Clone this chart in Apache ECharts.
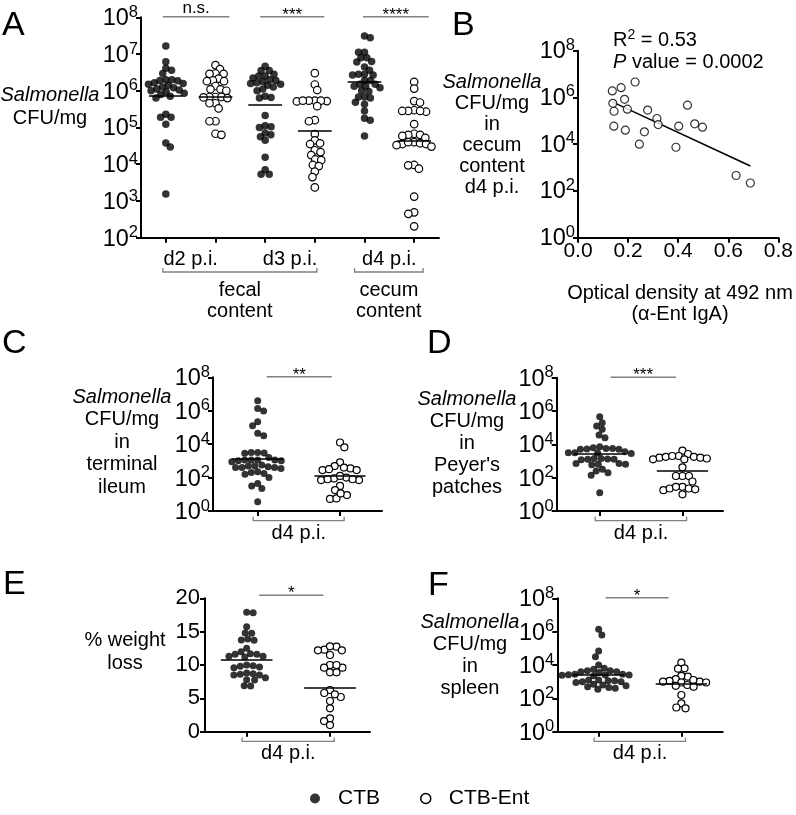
<!DOCTYPE html>
<html><head><meta charset="utf-8">
<script src="https://cdn.jsdelivr.net/npm/echarts@6/dist/echarts.min.js"></script>
<style>html,body{margin:0;padding:0;background:#fff}#c{width:796px;height:815px}</style>
</head><body><div id="c"></div>
<script>
// ===== DATA (log10 CFU/mg unless noted) =====
const aCategories = ['d2 p.i.', 'd3 p.i.', 'd4 p.i.'];
const aD2_CTB = [7.22, 6.79, 6.61, 6.56, 6.47, 6.30, 6.30, 6.28, 6.27, 6.22, 6.20, 6.18, 6.15, 6.10, 6.08, 6.05, 6.02, 6.00, 5.97, 5.93, 5.90, 5.85, 5.80, 5.36, 5.28, 5.28, 5.09, 4.58, 4.47, 3.19];
const aD2_Ent = [6.70, 6.59, 6.47, 6.46, 6.46, 6.33, 6.28, 6.26, 6.26, 6.13, 6.04, 6.04, 6.00, 5.83, 5.83, 5.82, 5.83, 5.80, 5.66, 5.66, 5.52, 5.17, 5.17, 4.83, 4.80];
const aD3_CTB = [6.67, 6.55, 6.55, 6.45, 6.40, 6.40, 6.35, 6.30, 6.28, 6.25, 6.22, 6.20, 6.18, 6.15, 6.10, 6.05, 6.00, 5.85, 5.82, 5.80, 5.33, 5.05, 5.02, 5.00, 4.85, 4.80, 4.75, 4.65, 4.19, 3.85, 3.73, 3.73];
const aD3_Ent = [6.48, 6.17, 6.02, 5.73, 5.73, 5.72, 5.73, 5.71, 5.73, 5.58, 5.20, 5.17, 4.82, 4.65, 4.57, 4.55, 4.38, 4.33, 4.25, 4.13, 4.11, 3.98, 3.95, 3.80, 3.65, 3.37];
const aD4_CTB = [7.49, 7.44, 7.05, 7.05, 6.90, 6.90, 6.80, 6.78, 6.65, 6.56, 6.45, 6.45, 6.43, 6.43, 6.28, 6.28, 6.18, 6.18, 6.12, 6.12, 6.08, 6.00, 5.98, 5.83, 5.83, 5.80, 5.69, 5.63, 5.45, 5.25, 5.20, 4.77];
const aD4_Ent = [6.24, 6.06, 5.72, 5.68, 5.47, 5.45, 5.43, 5.45, 5.45, 5.09, 4.83, 4.80, 4.80, 4.77, 4.72, 4.60, 4.57, 4.55, 4.52, 4.55, 4.60, 4.48, 3.98, 3.97, 3.88, 3.12, 2.69, 2.65, 2.31];
const aMeans = [5.86, 5.85, 5.62, 4.91, 6.25, 4.64];
const aSig = ['n.s.', '***', '****'];

const bOD = [0.137, 0.172, 0.228, 0.139, 0.186, 0.144, 0.197, 0.278, 0.315, 0.320, 0.143, 0.189, 0.265, 0.245, 0.402, 0.437, 0.466, 0.497, 0.391, 0.631, 0.688];
const bLogCFU = [6.28, 6.42, 6.66, 5.75, 5.92, 5.41, 5.50, 5.46, 5.10, 4.84, 4.77, 4.60, 4.53, 4.00, 4.77, 5.67, 4.87, 4.73, 3.87, 2.66, 2.34];
const bStats = ['0.53', '0.0002'];

const cCTB = [6.60, 6.14, 5.98, 5.34, 5.10, 4.65, 4.50, 3.50, 3.47, 3.45, 3.50, 3.20, 3.05, 3.05, 3.05, 3.00, 3.05, 3.00, 2.95, 2.75, 2.70, 2.65, 2.60, 2.60, 2.60, 2.70, 2.55, 2.30, 2.25, 2.20, 2.35, 2.00, 1.65, 1.35, 1.50, 0.55];
const cEnt = [4.10, 3.81, 2.91, 2.69, 2.55, 2.45, 2.45, 2.50, 2.60, 2.00, 1.95, 1.85, 1.85, 1.90, 1.90, 2.10, 1.50, 1.25, 0.95, 0.72, 0.75, 1.05];
const cMeans = [3.15, 2.10];
const dCTB = [5.66, 5.30, 5.10, 4.90, 4.56, 4.40, 3.85, 3.75, 3.70, 3.70, 3.72, 3.75, 3.80, 3.55, 3.50, 3.45, 3.50, 3.48, 3.15, 3.10, 3.08, 3.10, 3.12, 3.15, 2.85, 2.80, 2.78, 2.80, 2.85, 2.50, 2.30, 2.15, 2.40, 1.10];
const dEnt = [3.62, 3.42, 3.30, 3.25, 3.20, 3.20, 3.25, 3.30, 3.15, 3.10, 3.10, 2.62, 2.10, 2.10, 2.10, 1.77, 1.45, 1.35, 1.30, 1.00, 1.25, 1.35, 1.45];
const dMeans = [3.46, 2.40];
const eCTB = [17.9, 17.85, 15.75, 14.75, 14.8, 13.9, 13.7, 13.75, 12.5, 12.0, 11.6, 11.3, 11.2, 11.3, 11.6, 11.7, 10.0, 9.7, 9.9, 9.8, 9.6, 8.7, 8.5, 8.5, 8.6, 8.8, 7.75, 7.8, 6.85, 6.9, 8.1]; // % weight loss
const eEnt = [12.75, 12.3, 11.5, 12.2, 12.2, 12.8, 10.0, 9.6, 8.9, 8.9, 9.6, 10.0, 6.25, 5.8, 5.2, 4.6, 5.6, 3.5, 2.0, 1.6, 1.0];
const eMeans = [10.85, 6.6];
const fCTB = [6.14, 5.80, 4.84, 4.50, 4.00, 3.75, 3.80, 3.65, 3.60, 3.55, 3.60, 3.65, 3.45, 3.40, 3.38, 3.42, 3.40, 3.45, 3.35, 3.10, 3.05, 3.00, 2.95, 3.00, 3.05, 3.10, 2.75, 2.65, 2.55, 2.60, 2.70, 2.85, 2.80];
const fEnt = [4.14, 3.80, 3.78, 3.30, 3.35, 3.15, 3.05, 3.00, 2.95, 2.95, 3.00, 3.10, 2.75, 2.80, 2.70, 2.20, 1.70, 1.45, 1.40];
const fMeans = [3.44, 2.90];
const cdefSig = ['**', '***', '*', '*'];
const groupLabel = 'd4 p.i.';
const seriesNames = ['CTB', 'CTB-Ent'];

// ===== CHART =====
const FONT = '"Liberation Sans", Arial, Helvetica, sans-serif';
const chart = echarts.init(document.getElementById('c'), null, {renderer: 'canvas'});

const supRich = {
  b: {fontSize: 23.5, lineHeight: 30, fontFamily: FONT, color: '#000'},
  s: {fontSize: 16.5, lineHeight: 16, verticalAlign: 'top', fontFamily: FONT, color: '#000'}
};
const AX_LINE = {show: true, onZero: false, lineStyle: {color: '#000', width: 2}};
function yPow(gi, min, max, interval, padTop) {
  return {type: 'value', gridIndex: gi, min, max, interval,
    axisLine: AX_LINE,
    axisTick: {show: true, length: 5, lineStyle: {color: '#000', width: 2}},
    axisLabel: {margin: 3, padding: [padTop, 0, 0, 0], formatter: v => '{b|10}{s|' + v + '}', rich: supRich},
    splitLine: {show: false}};
}
function xDot(gi, min, max, ticks, labels, fmt) {
  return {type: 'value', gridIndex: gi, min, max,
    axisLine: AX_LINE,
    axisTick: {show: true, length: 5, customValues: ticks, lineStyle: {color: '#000', width: 2}},
    axisLabel: {show: true, customValues: labels, formatter: fmt, margin: 12, color: '#000', fontSize: 20, fontFamily: FONT},
    splitLine: {show: false}};
}

const grids = [
  {left: 141, top: 17.3, width: 298, height: 220.4},
  {left: 578, top: 50.7, width: 203, height: 187},
  {left: 213, top: 377.3, width: 169, height: 133.7},
  {left: 556.7, top: 377.7, width: 166.3, height: 133.3},
  {left: 205, top: 598.3, width: 165, height: 133.4},
  {left: 557.3, top: 598.3, width: 165.4, height: 133.4}
];

const xAxes = [
  xDot(0, -0.5, 5.5, [0, 1, 2, 3, 4, 5], [0.5, 2.5, 4.5], v => aCategories[Math.round((v - 0.5) / 2)]),
  {type: 'value', gridIndex: 1, min: 0, max: 0.8, interval: 0.2, axisLine: AX_LINE,
    axisTick: {show: true, length: 5, lineStyle: {color: '#000', width: 2}},
    axisLabel: {margin: 3, formatter: v => v.toFixed(1), color: '#000', fontSize: 21, fontFamily: FONT},
    splitLine: {show: false}},
  xDot(2, -0.543, 1.51, [0, 1], [0.5], () => groupLabel),
  xDot(3, -0.52, 1.49, [0, 1], [0.5], () => groupLabel),
  xDot(4, -0.5, 1.48, [0, 1], [0.5], () => groupLabel),
  xDot(5, -0.5, 1.5, [0, 1], [0.5], () => groupLabel)
];
const eY = {type: 'value', gridIndex: 4, min: 0, max: 20, interval: 5, axisLine: AX_LINE,
  axisTick: {show: true, length: 5, lineStyle: {color: '#000', width: 2}},
  axisLabel: {margin: 5, color: '#000', fontSize: 22, fontFamily: FONT}, splitLine: {show: false}};
const yAxes = [yPow(0, 2, 8, 1, 3), yPow(1, 0, 8, 2, 2), yPow(2, 0, 8, 2, 3), yPow(3, 0, 8, 2, 3), eY, yPow(5, 0, 8, 2, 3)];

chart.setOption({animation: false, backgroundColor: '#fff', grid: grids, xAxis: xAxes, yAxis: yAxes});

const px = (gi, x, y) => chart.convertToPixel({gridIndex: gi}, [x, y]);

function beeswarm(ys, D) {
  const order = ys.map((y, i) => i).sort((a, b) => ys[a] - ys[b]);
  const placed = [], xs = new Array(ys.length);
  let flip = 1;
  for (const i of order) {
    const y = ys[i];
    const iv = [];
    for (const p of placed) {
      const dy = Math.abs(p.y - y);
      if (dy < D) { const w = Math.sqrt(D * D - dy * dy); iv.push([p.x - w, p.x + w]); }
    }
    const cands = [0];
    iv.forEach(([a, b]) => cands.push(a, b));
    const ok = c => iv.every(([a, b]) => c <= a + 1e-6 || c >= b - 1e-6);
    let best = null;
    for (const c of cands) {
      if (!ok(c)) continue;
      if (best === null || Math.abs(c) < Math.abs(best) - 1e-6 ||
          (Math.abs(Math.abs(c) - Math.abs(best)) <= 1e-6 && Math.sign(c) === flip)) best = c;
    }
    if (Math.abs(best) > 1e-6) flip = -Math.sign(best);
    xs[i] = best; placed.push({x: best, y});
  }
  return xs;
}
function swarm(gi, center, vals, D) {
  const ppu = px(gi, center + 1, vals[0])[0] - px(gi, center, vals[0])[0];
  const ys = vals.map(v => px(gi, center, v)[1]);
  const offs = beeswarm(ys, D);
  return vals.map((v, i) => [center + offs[i] / ppu, v]);
}

const series = [];
function dotSeries(gi, center, vals, mean, filled, size, D, half) {
  series.push({
    type: 'scatter', name: filled ? seriesNames[0] : seriesNames[1],
    xAxisIndex: gi, yAxisIndex: gi, symbol: 'circle', symbolSize: size,
    data: swarm(gi, center, vals, D), z: 2, silent: true,
    itemStyle: filled ? {color: '#000', borderWidth: 0} : {color: '#fff', borderColor: '#000', borderWidth: 1.2, opacity: 1},
    markLine: {silent: true, symbol: 'none', label: {show: false}, z: 5,
      lineStyle: {color: '#000', width: 1.6, type: 'solid'},
      data: [[{coord: [center - half, mean]}, {coord: [center + half, mean]}]]}
  });
}
const aGroups = [aD2_CTB, aD2_Ent, aD3_CTB, aD3_Ent, aD4_CTB, aD4_Ent];
aGroups.forEach((g, i) => dotSeries(0, i, g, aMeans[i], i % 2 === 0, 7.5, 6, 0.34));
const cdef = [[2, cCTB, cEnt, cMeans], [3, dCTB, dEnt, dMeans], [4, eCTB, eEnt, eMeans], [5, fCTB, fEnt, fMeans]];
cdef.forEach(([gi, c, e, m]) => { dotSeries(gi, 0, c, m[0], true, 7, 6.5, 0.31); dotSeries(gi, 1, e, m[1], false, 7, 6.5, 0.31); });

// Panel B scatter + regression
series.push({type: 'scatter', name: seriesNames[1], xAxisIndex: 1, yAxisIndex: 1, symbol: 'circle', symbolSize: 8, silent: true,
  data: bOD.map((x, i) => [x, bLogCFU[i]]), itemStyle: {color: '#fff', borderColor: '#000', borderWidth: 1.2}, z: 3});
(function () {
  const n = bOD.length;
  const mx = bOD.reduce((a, b) => a + b, 0) / n, my = bLogCFU.reduce((a, b) => a + b, 0) / n;
  let sxy = 0, sxx = 0;
  for (let i = 0; i < n; i++) { sxy += (bOD[i] - mx) * (bLogCFU[i] - my); sxx += (bOD[i] - mx) ** 2; }
  const slope = sxy / sxx, icpt = my - slope * mx;
  const x0 = Math.min(...bOD), x1 = Math.max(...bOD);
  series.push({type: 'line', xAxisIndex: 1, yAxisIndex: 1, symbol: 'none', silent: true, z: 2,
    lineStyle: {color: '#000', width: 1.6}, data: [[x0, icpt + slope * x0], [x1, icpt + slope * x1]]});
})();

// ===== ANNOTATIONS =====
const G = [];
const GRAY = '#808080';
function txt(x, y, text, opts) {
  const o = Object.assign({size: 20, align: 'center', va: 'middle', rich: null, lh: null}, opts || {});
  const style = {text, fill: '#000', font: o.size + 'px ' + FONT, fontSize: o.size, fontFamily: FONT,
    textAlign: o.align, align: o.align, textVerticalAlign: o.va, verticalAlign: o.va};
  if (o.lh) style.lineHeight = o.lh;
  if (o.rich) style.rich = o.rich;
  G.push({type: 'text', x, y, silent: true, style, z: 10});
}
function line(points, color, w) {
  G.push({type: 'polyline', silent: true, shape: {points}, style: {stroke: color, lineWidth: w, fill: null}, z: 10});
}
function rich(size, lh) {
  return {i: {fontStyle: 'italic', fontSize: size, fontFamily: FONT, lineHeight: lh, fill: '#000', color: '#000'},
          n: {fontSize: size, fontFamily: FONT, lineHeight: lh, color: '#000'},
          s: {fontSize: 14, fontFamily: FONT, lineHeight: lh, verticalAlign: 'top', color: '#000'}};
}
function sigBar(gi, x1, x2, yTop, label) {
  const p1 = px(gi, x1, yTop), p2 = px(gi, x2, yTop);
  const y = p1[1] - 0.5;
  line([[p1[0], y], [p2[0], y]], GRAY, 1.5);
  const star = label.indexOf('*') >= 0;
  txt((p1[0] + p2[0]) / 2, star ? y - 1.5 : y - 8.5, label, {size: 17});
}
function bracket(gi, x1, x2, yBase, dy, label, labelDy) {
  const p1 = px(gi, x1, yBase), p2 = px(gi, x2, yBase);
  const y = p1[1] + dy;
  line([[p1[0], y - 4], [p1[0], y], [p2[0], y], [p2[0], y - 4]], GRAY, 1.3);
  if (label) txt((p1[0] + p2[0]) / 2, y + labelDy, label, {size: 20, lh: 21.7});
}

// panel letters
[['A', 2, 26], ['B', 452, 26], ['C', 2, 344], ['D', 427, 344], ['E', 3, 585], ['F', 428, 586]]
  .forEach(([t, x, y]) => txt(x, y, t, {size: 34, align: 'left'}));

// axis titles
txt(50, 106.5, '{i|Salmonella}\n{n|CFU/mg}', {rich: rich(20, 23), lh: 23});
txt(492, 134.5, '{i|Salmonella}\n{n|CFU/mg}\n{n|in}\n{n|cecum}\n{n|content}\n{n|d4 p.i.}', {rich: rich(20, 21), lh: 21});
txt(122, 442, '{i|Salmonella}\n{n|CFU/mg}\n{n|in}\n{n|terminal}\n{n|ileum}', {rich: rich(20, 22.5), lh: 22.5});
txt(467, 443, "{i|Salmonella}\n{n|CFU/mg}\n{n|in}\n{n|Peyer's}\n{n|patches}", {rich: rich(20, 22), lh: 22});
txt(125, 651.5, '{n|% weight}\n{n|loss}', {rich: rich(20, 23), lh: 23});
txt(470, 655, '{i|Salmonella}\n{n|CFU/mg}\n{n|in}\n{n|spleen}', {rich: rich(20, 22), lh: 22});
txt(680, 304, '{n|Optical density at 492 nm}\n{n|(α-Ent IgA)}', {rich: rich(20, 21), lh: 21});
txt(613, 40, '{n|R}{s|2}{n| = ' + bStats[0] + '}', {rich: rich(20, 24), align: 'left'});
txt(613, 62, '{i|P}{n| value = ' + bStats[1] + '}', {rich: rich(20, 24), align: 'left'});

// significance bars
[[-0.06, 1.28], [1.9, 3.19], [3.97, 5.29]].forEach(([a, b], i) => sigBar(0, a, b, 8, aSig[i]));
[[2, 0.11, 0.90, 8], [3, 0.13, 0.92, 8], [4, 0.15, 0.92, 20.4], [5, 0.085, 0.845, 8]]
  .forEach(([gi, a, b, t], i) => sigBar(gi, a, b, t, cdefSig[i]));

// brackets
bracket(0, -0.06, 3.04, 2, 34.3, 'fecal\ncontent', 29);
bracket(0, 3.8, 5.18, 2, 34.3, 'cecum\ncontent', 29);
[[2, 0], [3, 0], [4, 0], [5, 0]].forEach(([gi, y0]) => bracket(gi, -0.055, 1.05, y0, 9.7, null, 0));

chart.setOption({
  series,
  graphic: {elements: G},
  legend: {data: [
      {name: seriesNames[0], icon: 'circle', itemStyle: {color: '#000', borderWidth: 0}},
      {name: seriesNames[1], icon: 'circle', itemStyle: {color: '#fff', borderColor: '#000', borderWidth: 1.5}}],
    left: 305, top: 783, itemWidth: 36, itemHeight: 10, itemGap: 40, selectedMode: false,
    textStyle: {fontSize: 21, fontFamily: FONT, color: '#000'}}
});
</script></body></html>
